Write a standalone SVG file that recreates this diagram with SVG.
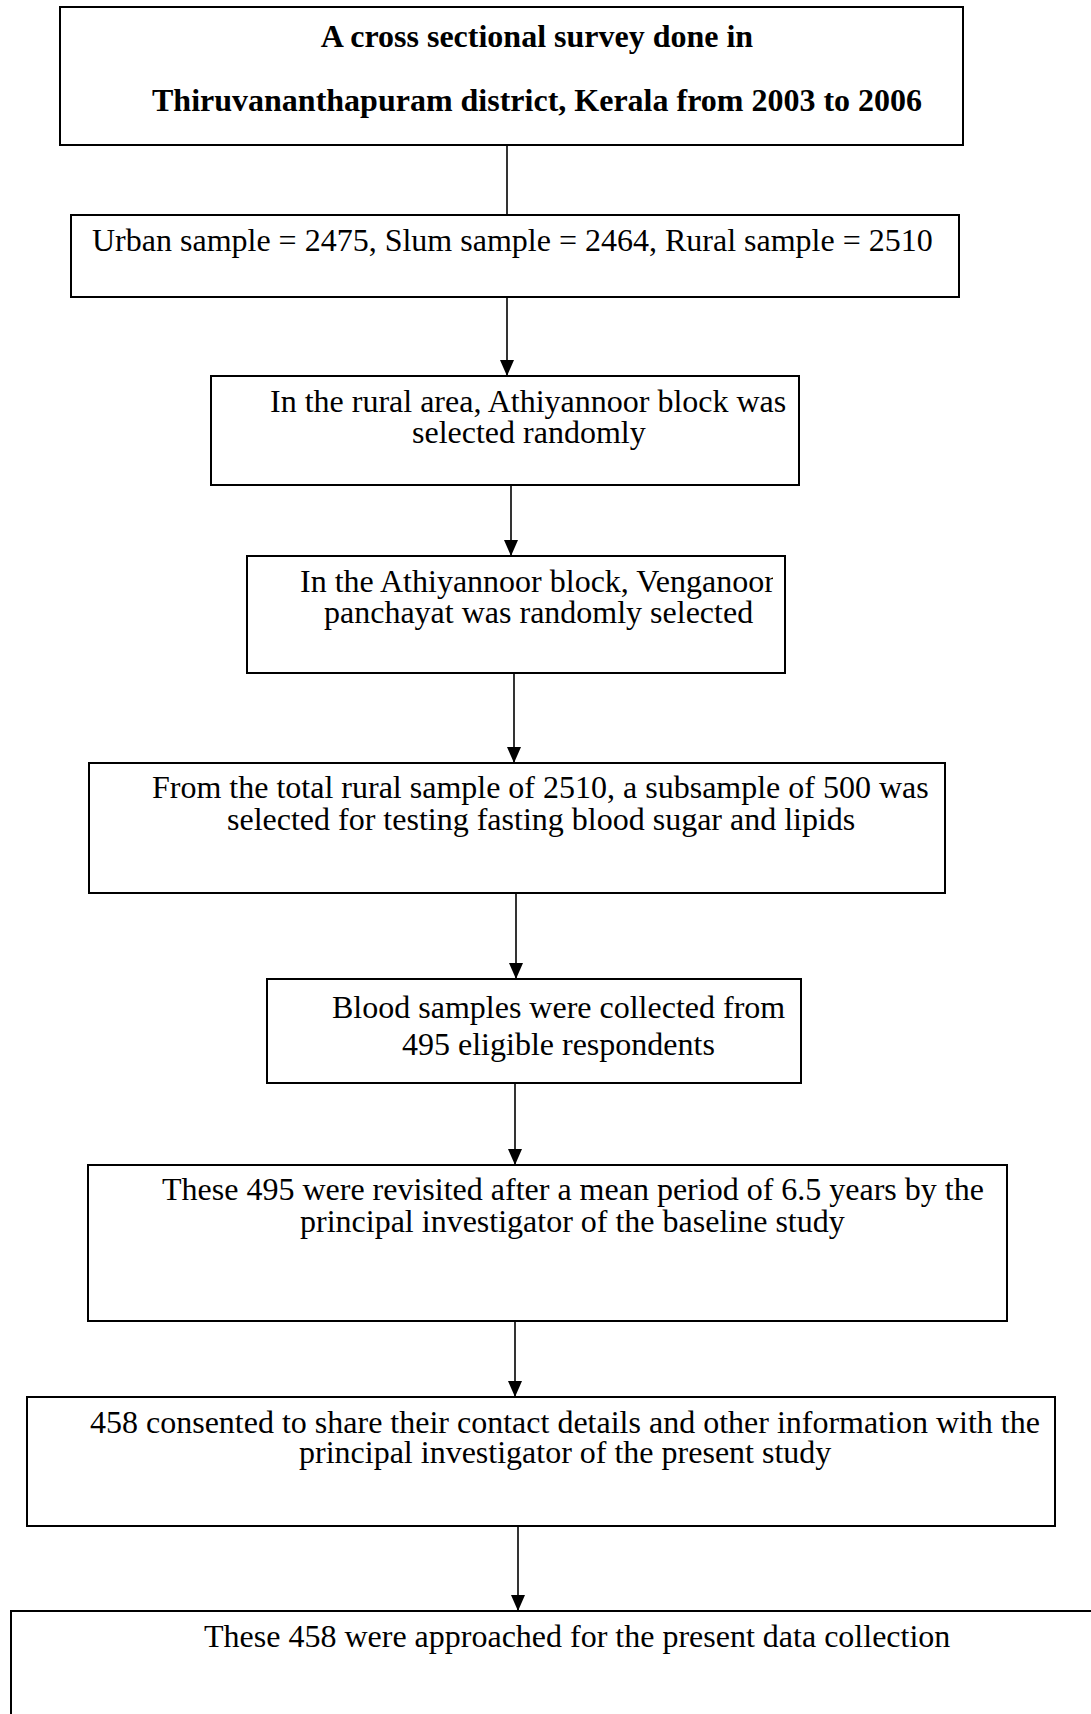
<svg xmlns="http://www.w3.org/2000/svg" width="1091" height="1714" viewBox="0 0 1091 1714">
<style>
.box{fill:#fff;stroke:#000;stroke-width:2}
.t{font-family:"Liberation Serif","Times New Roman",serif;font-size:32px;fill:#000}
.b{font-weight:bold}
.c{stroke:#000;stroke-width:1.6;fill:none}
</style>
<defs>
<marker id="arr" markerUnits="userSpaceOnUse" markerWidth="16" markerHeight="14" refX="16" refY="7" orient="auto" viewBox="0 0 16 14">
<path d="M0,0 L16,7 L0,14 z" fill="#000"/>
</marker>
<clipPath id="clip4"><rect x="247" y="556" width="526" height="117"/></clipPath>
</defs>
<rect width="1091" height="1714" fill="#fff"/>
<g id="connectors">
<line class="c" x1="507" y1="145" x2="507" y2="215"/>
<line class="c" x1="507" y1="297" x2="507" y2="376" marker-end="url(#arr)"/>
<line class="c" x1="511" y1="485" x2="511" y2="556" marker-end="url(#arr)"/>
<line class="c" x1="514" y1="673" x2="514" y2="763" marker-end="url(#arr)"/>
<line class="c" x1="516" y1="893" x2="516" y2="979" marker-end="url(#arr)"/>
<line class="c" x1="515" y1="1083" x2="515" y2="1165" marker-end="url(#arr)"/>
<line class="c" x1="515" y1="1321" x2="515" y2="1397" marker-end="url(#arr)"/>
<line class="c" x1="518" y1="1526" x2="518" y2="1611" marker-end="url(#arr)"/>
</g>
<g id="n1">
<rect class="box" x="60" y="7" width="903" height="138"/>
<text class="t b" x="537" y="47" text-anchor="middle">A cross sectional survey done in</text>
<text class="t b" x="152" y="111">Thiruvananthapuram district, Kerala from 2003 to 2006</text>
</g>
<g id="n2">
<rect class="box" x="71" y="215" width="888" height="82"/>
<text class="t" x="92" y="251">Urban sample = 2475, Slum sample = 2464, Rural sample = 2510</text>
</g>
<g id="n3">
<rect class="box" x="211" y="376" width="588" height="109"/>
<text class="t" x="270" y="412">In the rural area, Athiyannoor block was</text>
<text class="t" x="412" y="443">selected randomly</text>
</g>
<g id="n4">
<rect class="box" x="247" y="556" width="538" height="117"/>
<text class="t" x="300" y="592" clip-path="url(#clip4)">In the Athiyannoor block, Venganoor</text>
<text class="t" x="324" y="623">panchayat was randomly selected</text>
</g>
<g id="n5">
<rect class="box" x="89" y="763" width="856" height="130"/>
<text class="t" x="152" y="798">From the total rural sample of 2510, a subsample of 500 was</text>
<text class="t" x="227" y="830">selected for testing fasting blood sugar and lipids</text>
</g>
<g id="n6">
<rect class="box" x="267" y="979" width="534" height="104"/>
<text class="t" x="332" y="1018">Blood samples were collected from</text>
<text class="t" x="402" y="1055">495 eligible respondents</text>
</g>
<g id="n7">
<rect class="box" x="88" y="1165" width="919" height="156"/>
<text class="t" x="162" y="1200">These 495 were revisited after a mean period of 6.5 years by the</text>
<text class="t" x="300" y="1232">principal investigator of the baseline study</text>
</g>
<g id="n8">
<rect class="box" x="27" y="1397" width="1028" height="129"/>
<text class="t" x="90" y="1433">458 consented to share their contact details and other information with the</text>
<text class="t" x="299" y="1463">principal investigator of the present study</text>
</g>
<g id="n9">
<rect class="box" x="11" y="1611" width="1100" height="200"/>
<text class="t" x="204" y="1647">These 458 were approached for the present data collection</text>
</g>
</svg>
